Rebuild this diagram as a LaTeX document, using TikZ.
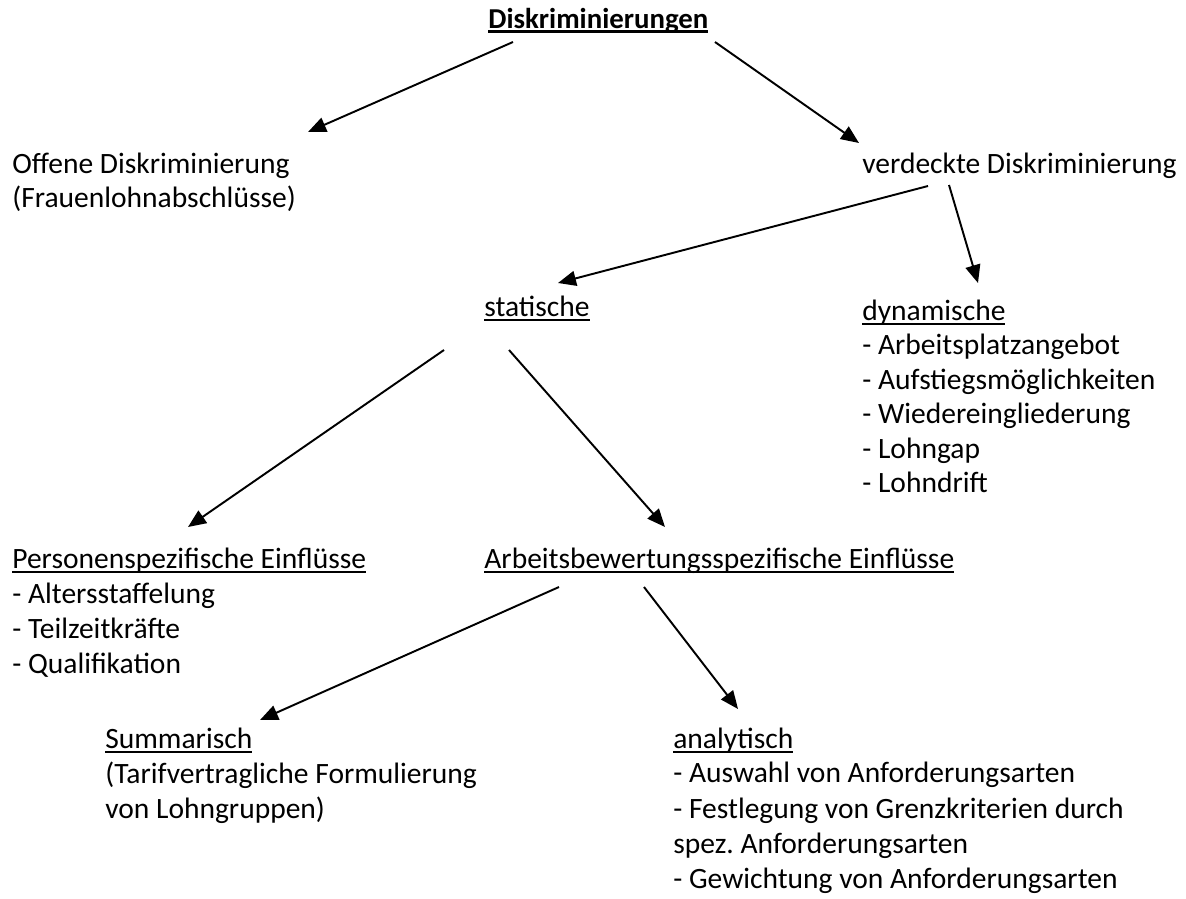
\documentclass[tikz,border=0pt]{standalone}
\usepackage{fontspec}
\setmainfont{Carlito}
\usepackage{tikz}
\usetikzlibrary{arrows.meta, positioning}

% underline that runs through the descenders
\newcommand{\ulin}[2][0.075em]{\setbox0=\hbox{#2}\rlap{\rule[-0.18em]{\wd0}{#1}}\box0}

\begin{document}
\frenchspacing
\begin{tikzpicture}[
            txt/.style={anchor=base west, inner sep=0pt, font=\fontsize{16.8}{20}\selectfont},
            arrow/.style={-{Triangle[length=0.36cm, width=0.3cm]}, line width=1.1pt}
        ]
        \useasboundingbox (0,0) rectangle (23.72,-17.98);

        % Top
        \node[txt, font=\fontsize{16.4}{20}\selectfont\bfseries] (disk) at (9.76,-0.56) {\ulin[0.1em]{Diskriminierungen}};

        % Level 1
        \node[txt] (offen) at (0.24,-3.46) {Offene Diskriminierung};
        \node[txt] (offen2) at (0.24,-4.14) {(Frauenlohnabschlüsse)};
        \node[txt] (verdeckt) at (17.24,-3.47) {verdeckte Diskriminierung};

        % Level 2
        \node[txt] (stat) at (9.68,-6.32) {\ulin{statische}};
        \node[txt] (dyn) at (17.24,-6.40) {\ulin{dynamische}};
        \foreach \t [count=\i] in {Arbeitsplatzangebot, Aufstiegsmöglichkeiten, Wiedereingliederung, Lohngap, Lohndrift} {
                \node[txt] (dyn\i) at (17.24,{-6.40-0.69*\i}) {- \t};
            }

        % Level 3
        \node[txt] (pers) at (0.24,-11.36) {\ulin{Personenspezifische Einflüsse}};
        \foreach \t [count=\i] in {Altersstaffelung, Teilzeitkräfte, Qualifikation} {
                \node[txt] (pers\i) at (0.24,{-11.36-0.70*\i}) {- \t};
            }
        \node[txt] (arb) at (9.68,-11.36) {\ulin{Arbeitsbewertungsspezifische Einflüsse}};

        % Level 4
        \node[txt] (summ) at (2.10,-14.96) {\ulin{Summarisch}};
        \node[txt] (summ1) at (2.10,-15.66) {(Tarifvertragliche Formulierung};
        \node[txt] (summ2) at (2.10,-16.36) {von Lohngruppen)};
        \node[txt] (ana) at (13.46,-14.96) {\ulin{analytisch}};
        \node[txt] (ana1) at (13.46,-15.64) {- Auswahl von Anforderungsarten};
        \node[txt] (ana2) at (13.46,-16.36) {- Festlegung von Grenzkriterien durch};
        \node[txt] (ana3) at (13.46,-17.06) {spez. Anforderungsarten};
        \node[txt] (ana4) at (13.46,-17.76) {- Gewichtung von Anforderungsarten};

        % Arrow ends
        \coordinate (disk-l) at (10.26,-0.84);
        \coordinate (disk-r) at (14.30,-0.84);
        \coordinate (offen-t) at (6.16,-2.64);
        \coordinate (verdeckt-t) at (17.18,-2.86);
        \coordinate (verdeckt-l) at (18.56,-3.72);
        \coordinate (verdeckt-r) at (18.98,-3.70);
        \coordinate (stat-t) at (11.16,-5.66);
        \coordinate (dyn-t) at (19.56,-5.66);
        \coordinate (stat-l) at (8.88,-7.00);
        \coordinate (stat-r) at (10.18,-7.00);
        \coordinate (pers-t) at (3.76,-10.54);
        \coordinate (arb-t) at (13.30,-10.54);
        \coordinate (arb-l) at (11.18,-11.74);
        \coordinate (arb-r) at (12.88,-11.74);
        \coordinate (summ-t) at (5.20,-14.40);
        \coordinate (ana-t) at (14.76,-14.18);

        \draw[arrow] (disk-l) -- (offen-t);
        \draw[arrow] (disk-r) -- (verdeckt-t);
        \draw[arrow] (verdeckt-l) -- (stat-t);
        \draw[arrow] (verdeckt-r) -- (dyn-t);
        \draw[arrow] (stat-l) -- (pers-t);
        \draw[arrow] (stat-r) -- (arb-t);
        \draw[arrow] (arb-l) -- (summ-t);
        \draw[arrow] (arb-r) -- (ana-t);
    \end{tikzpicture}
\end{document}
